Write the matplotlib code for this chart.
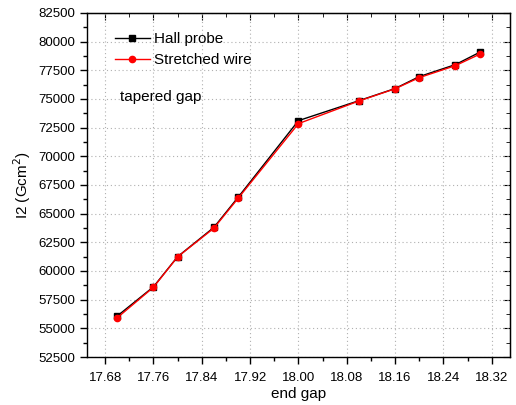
import numpy as np
import matplotlib.pyplot as plt
from matplotlib.ticker import MultipleLocator

plt.rcParams['font.family'] = ['Liberation Sans', 'DejaVu Sans']

end_gap = [17.70, 17.76, 17.80, 17.86, 17.90, 18.00, 18.10, 18.16, 18.20, 18.26, 18.30]
hall_probe = [56070, 58620, 61250, 63800, 66420, 73110, 74850, 75910, 76950, 78000, 79070]
stretched_wire = [55920, 58580, 61230, 63730, 66330, 72850, 74820, 75890, 76860, 77910, 78900]

fig = plt.figure(figsize=(5.16, 4.05), dpi=100)
ax = fig.add_axes([0.1686, 0.1185, 0.8195, 0.8495])

ax.plot(end_gap, hall_probe, color='black', marker='s', markersize=4,
        linewidth=1.0, label='Hall probe')
ax.plot(end_gap, stretched_wire, color='red', marker='o', markersize=4.5,
        linewidth=1.0, label='Stretched wire')

ax.set_xlim(17.65, 18.35)
ax.set_ylim(52500, 82500)
ax.xaxis.set_major_locator(MultipleLocator(0.08))
ax.xaxis.set_minor_locator(MultipleLocator(0.04))
ax.yaxis.set_major_locator(MultipleLocator(2500))
ax.yaxis.set_minor_locator(MultipleLocator(1250))
ax.xaxis.set_major_formatter(plt.FormatStrFormatter('%.2f'))

ax.grid(True, which='major', linestyle=(0, (1, 2.5)), color='#b0b0b0', linewidth=0.8)

ax.tick_params(axis='both', which='both', direction='out', labelsize=9.5,
               width=1.0, top=False, right=False)
ax.tick_params(which='major', length=5)
ax.tick_params(which='minor', length=3)
ax.tick_params(axis='x', which='major', pad=6)

# mirrored ticks on top/right pointing inwards
for spine in ax.spines.values():
    spine.set_linewidth(1.0)
sec_x = ax.secondary_xaxis('top')
sec_x.xaxis.set_major_locator(MultipleLocator(0.08))
sec_x.xaxis.set_minor_locator(MultipleLocator(0.04))
sec_x.tick_params(which='both', direction='in', labeltop=False)
sec_x.tick_params(which='major', length=5)
sec_x.tick_params(which='minor', length=3)
sec_y = ax.secondary_yaxis('right')
sec_y.yaxis.set_major_locator(MultipleLocator(2500))
sec_y.yaxis.set_minor_locator(MultipleLocator(1250))
sec_y.tick_params(which='both', direction='in', labelright=False)
sec_y.tick_params(which='major', length=5)
sec_y.tick_params(which='minor', length=3)

ax.set_xlabel('end gap', fontsize=11, labelpad=2)
ax.set_ylabel('I2 (Gcm$^2$)', fontsize=11, labelpad=4)

ax.legend(loc='upper left', frameon=False, fontsize=11, handlelength=2.3,
          handletextpad=0.3, borderaxespad=0.3, labelspacing=0.45,
          bbox_to_anchor=(0.04, 0.975))
ax.text(0.078, 0.756, 'tapered gap', transform=ax.transAxes, fontsize=11,
        va='center', ha='left')

fig.savefig('out.png', dpi=100)
